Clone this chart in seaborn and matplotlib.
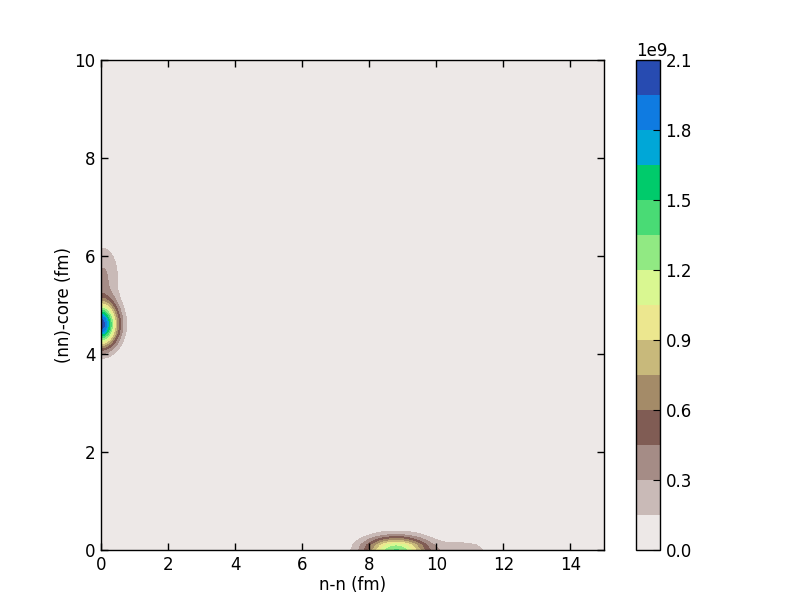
import numpy as np
import matplotlib
matplotlib.use("Agg")
import matplotlib.pyplot as plt
import seaborn as sns

# Blob parameters (centre x, centre y, amplitude, sigma x, sigma y)
blob_x = [0.0, 0.05, 8.8, 10.8]
blob_y = [4.6, 5.6, 0.0, 0.0]
blob_amp = [2.05e9, 0.32e9, 1.36e9, 0.24e9]
blob_sx = [0.33, 0.35, 0.64, 0.6]
blob_sy = [0.30, 0.45, 0.18, 0.14]

levels = [0.0, 0.15e9, 0.3e9, 0.45e9, 0.6e9, 0.75e9, 0.9e9, 1.05e9, 1.2e9,
          1.35e9, 1.5e9, 1.65e9, 1.8e9, 1.95e9, 2.1e9]
cbar_ticks = [0.0, 0.3e9, 0.6e9, 0.9e9, 1.2e9, 1.5e9, 1.8e9, 2.1e9]
x_ticks = [0, 2, 4, 6, 8, 10, 12, 14]
y_ticks = [0, 2, 4, 6, 8, 10]

sns.set_style("ticks", rc={"axes.axisbelow": False,
                           "text.color": "black", "axes.labelcolor": "black",
                           "xtick.color": "black", "ytick.color": "black",
                           "axes.edgecolor": "black"})
plt.rcParams['font.family'] = ['DejaVu Sans']

xg = np.linspace(0, 15, 151)
yg = np.linspace(0, 10, 101)
X, Y = np.meshgrid(xg, yg)
Z = np.zeros_like(X)
for cx, cy, a, sx, sy in zip(blob_x, blob_y, blob_amp, blob_sx, blob_sy):
    Z += a * np.exp(-((X - cx) ** 2) / (2 * sx ** 2) - ((Y - cy) ** 2) / (2 * sy ** 2))

fig = plt.figure(figsize=(8.12, 6.12), dpi=100)
ax = fig.add_axes([101 / 812, 62 / 612, 503 / 812, 490 / 612])
cax = fig.add_axes([636 / 812, 62 / 612, 24 / 812, 490 / 612])

mids = [(l0 + l1) / 2 / levels[-1] for l0, l1 in zip(levels[:-1], levels[1:])]
cmap = matplotlib.colors.ListedColormap([matplotlib.cm.terrain_r(m) for m in mids])
cs = ax.contourf(X, Y, Z, levels=levels, cmap=cmap)
ax.set_axisbelow(False)

ax.set_xlim(0, 15)
ax.set_ylim(0, 10)
ax.set_xticks(x_ticks)
ax.set_yticks(y_ticks)
ax.set_xlabel("n-n (fm)", fontsize=12, color="black", labelpad=2)
ax.set_ylabel("(nn)-core (fm)", fontsize=12, color="black", labelpad=1)
ax.tick_params(direction="in", top=True, right=True, length=5, width=1,
               labelsize=12, color="black", labelcolor="black", pad=4)
for s in ax.spines.values():
    s.set_visible(True)
    s.set_color("black")
    s.set_linewidth(1)
    s.set_zorder(3)

cb = fig.colorbar(cs, cax=cax, ticks=cbar_ticks)
cb.ax.set_axisbelow(False)
cb.ax.tick_params(direction="in", length=5, labelsize=12, color="black", labelcolor="black", pad=4)
cb.outline.set_edgecolor("black")
cb.outline.set_linewidth(1)
off = cb.ax.yaxis.get_offset_text()
off.set_fontsize(12)
off.set_color("black")
off.set_horizontalalignment("left")
off.set_x(0.0)

fig.savefig("out.png", dpi=100, facecolor="white")
